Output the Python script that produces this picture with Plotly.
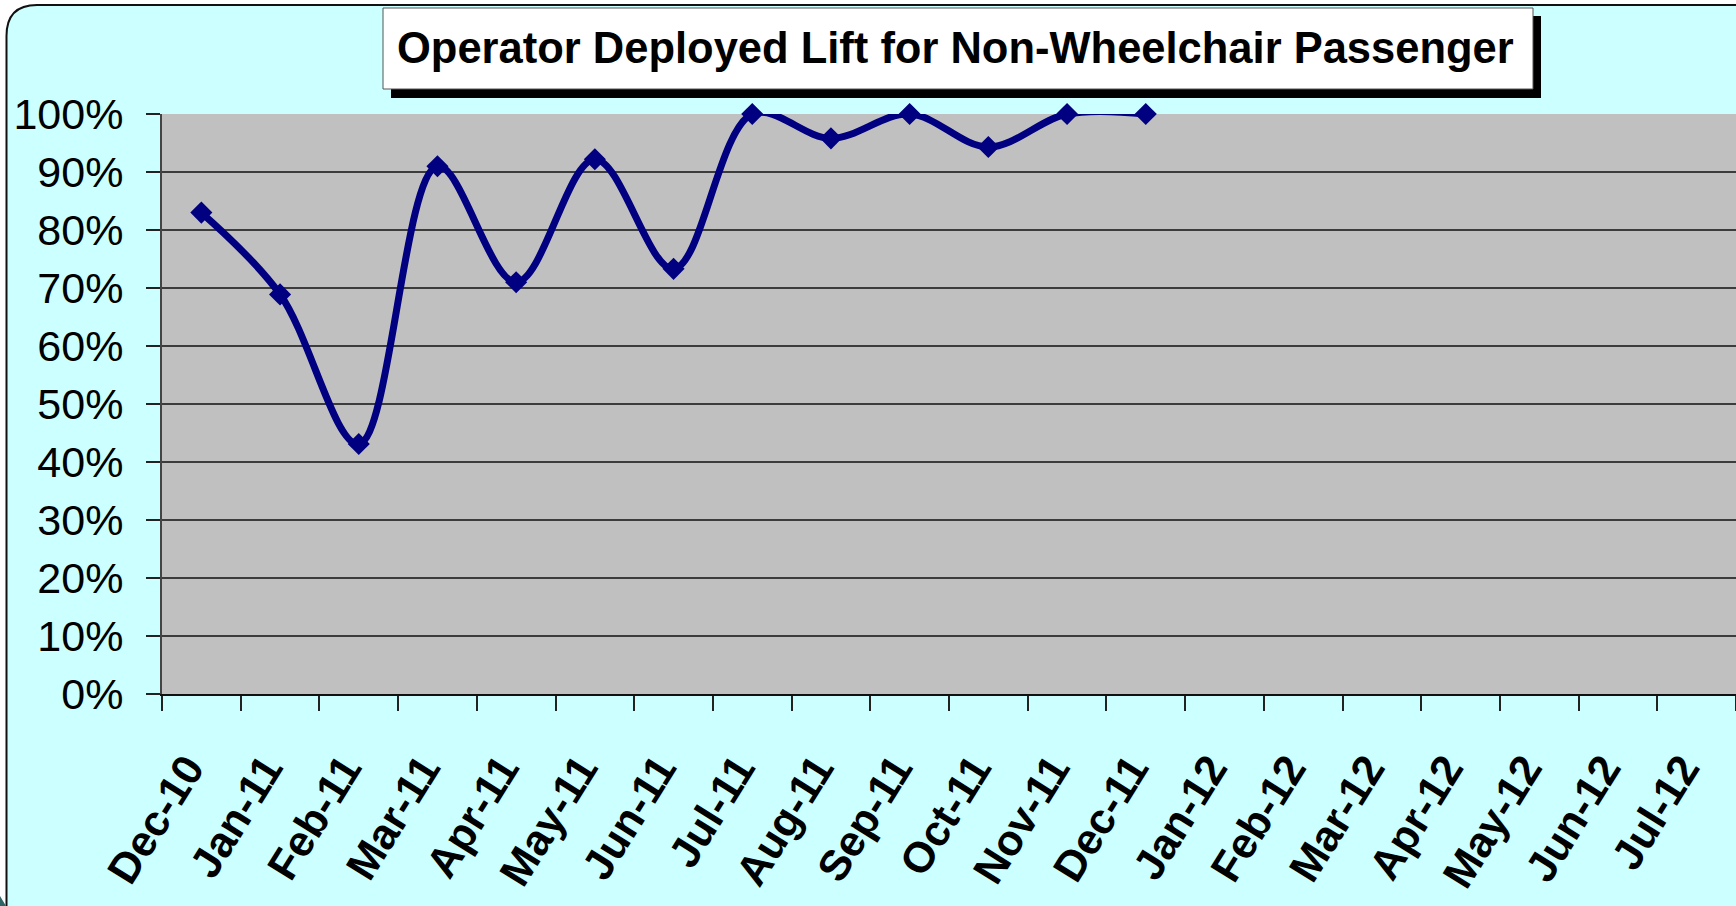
"""Operator deployed lift chart (Excel-style, rebuilt in Plotly)."""

import plotly.graph_objects as go

MONTHS = [
    "Dec-10", "Jan-11", "Feb-11", "Mar-11", "Apr-11", "May-11", "Jun-11",
    "Jul-11", "Aug-11", "Sep-11", "Oct-11", "Nov-11", "Dec-11", "Jan-12",
    "Feb-12", "Mar-12", "Apr-12", "May-12", "Jun-12", "Jul-12",
]
# monthly share, in percent; months after Dec-11 have no data yet
LIFT_PCT = [83.0, 68.9, 43.1, 91.0, 71.0, 92.2, 73.3, 100.0, 95.8, 100.0, 94.3, 100.0, 100.0]
Y_TICKS = [0, 10, 20, 30, 40, 50, 60, 70, 80, 90, 100]
TITLE = "Operator Deployed Lift for Non-Wheelchair Passenger"

W, H = 1736, 906
L, R, T, B = 162, 1736, 114, 694
FONT = "Liberation Sans, Arial, sans-serif"
NAVY = "#000080"


def px(x):
    return (x - L) / (R - L)


def py(y):
    return (B - y) / (B - T)


fig = go.Figure(
    go.Scatter(
        x=MONTHS[: len(LIFT_PCT)],
        y=[v / 100 for v in LIFT_PCT],
        mode="lines+markers",
        line={"color": NAVY, "width": 7, "shape": "spline", "smoothing": 1},
        marker={"symbol": "diamond", "size": 17, "color": NAVY},
        cliponaxis=False,
        showlegend=False,
    )
)

# outer rounded frame, then the grey plot area over it
frame = (
    f"M {px(6.5)},{py(925)} L {px(6.5)},{py(36)} "
    f"Q {px(6.5)},{py(5)} {px(37)},{py(5)} "
    f"L {px(1760)},{py(5)} L {px(1760)},{py(925)} Z"
)
shapes = [
    {"type": "path", "path": frame, "xref": "paper", "yref": "paper",
     "fillcolor": "#CCFFFF", "line": {"color": "#111111", "width": 2}, "layer": "below"},
    {"type": "path", "xref": "paper", "yref": "paper", "layer": "below",
     "path": f"M {px(0)},{py(896)} L {px(6)},{py(906)} L {px(0)},{py(906)} Z",
     "fillcolor": "#2F6464", "line": {"width": 0}},
    {"type": "rect", "xref": "paper", "yref": "paper", "x0": 0, "x1": 1, "y0": 0, "y1": 1,
     "fillcolor": "#C0C0C0", "line": {"width": 0}, "layer": "below"},
    # title box with its drop shadow
    {"type": "rect", "xref": "paper", "yref": "paper", "x0": px(391), "x1": px(1541),
     "y0": py(98), "y1": py(16), "fillcolor": "black", "line": {"width": 0}},
    {"type": "rect", "xref": "paper", "yref": "paper", "x0": px(383), "x1": px(1533),
     "y0": py(89), "y1": py(8), "fillcolor": "white", "line": {"color": "#555555", "width": 1}},
]

fig.update_layout(
    width=W,
    height=H,
    margin={"l": L, "r": W - R, "t": T, "b": H - B, "pad": 0},
    paper_bgcolor="white",
    plot_bgcolor="rgba(0,0,0,0)",
    font={"family": FONT, "color": "black"},
    shapes=shapes,
    annotations=[
        {"text": f"<b>{TITLE}</b>", "xref": "paper", "yref": "paper",
         "x": px(955), "y": py(48), "xanchor": "center", "yanchor": "middle",
         "showarrow": False, "font": {"size": 43.5, "family": FONT, "color": "black"}}
    ],
)
fig.update_xaxes(
    type="category",
    categoryorder="array",
    categoryarray=MONTHS,
    range=[-0.5, len(MONTHS) - 0.5],
    tickson="boundaries",
    ticks="outside",
    ticklen=15,
    tickwidth=1.5,
    tickcolor="#222222",
    tickangle=-58,
    ticklabelstandoff=30,
    ticklabelshift=-14,
    tickfont={"size": 43, "family": FONT, "weight": "bold"},
    showline=True,
    linecolor="#111111",
    linewidth=2,
    showgrid=False,
    zeroline=False,
)
fig.update_yaxes(
    range=[0, 1],
    tickvals=[v / 100 for v in Y_TICKS],
    ticktext=[f"{v}%" for v in Y_TICKS],
    ticks="outside",
    ticklen=14,
    tickwidth=1.5,
    tickcolor="#222222",
    ticklabelstandoff=14,
    tickfont={"size": 43, "family": FONT},
    showline=True,
    linecolor="#444444",
    linewidth=2,
    showgrid=True,
    gridcolor="#3C3C3C",
    gridwidth=1.5,
    zeroline=False,
)

fig.write_html(
    "out.html",
    config={"displayModeBar": False},
    post_script="document.body.style.margin = '0';",
)
